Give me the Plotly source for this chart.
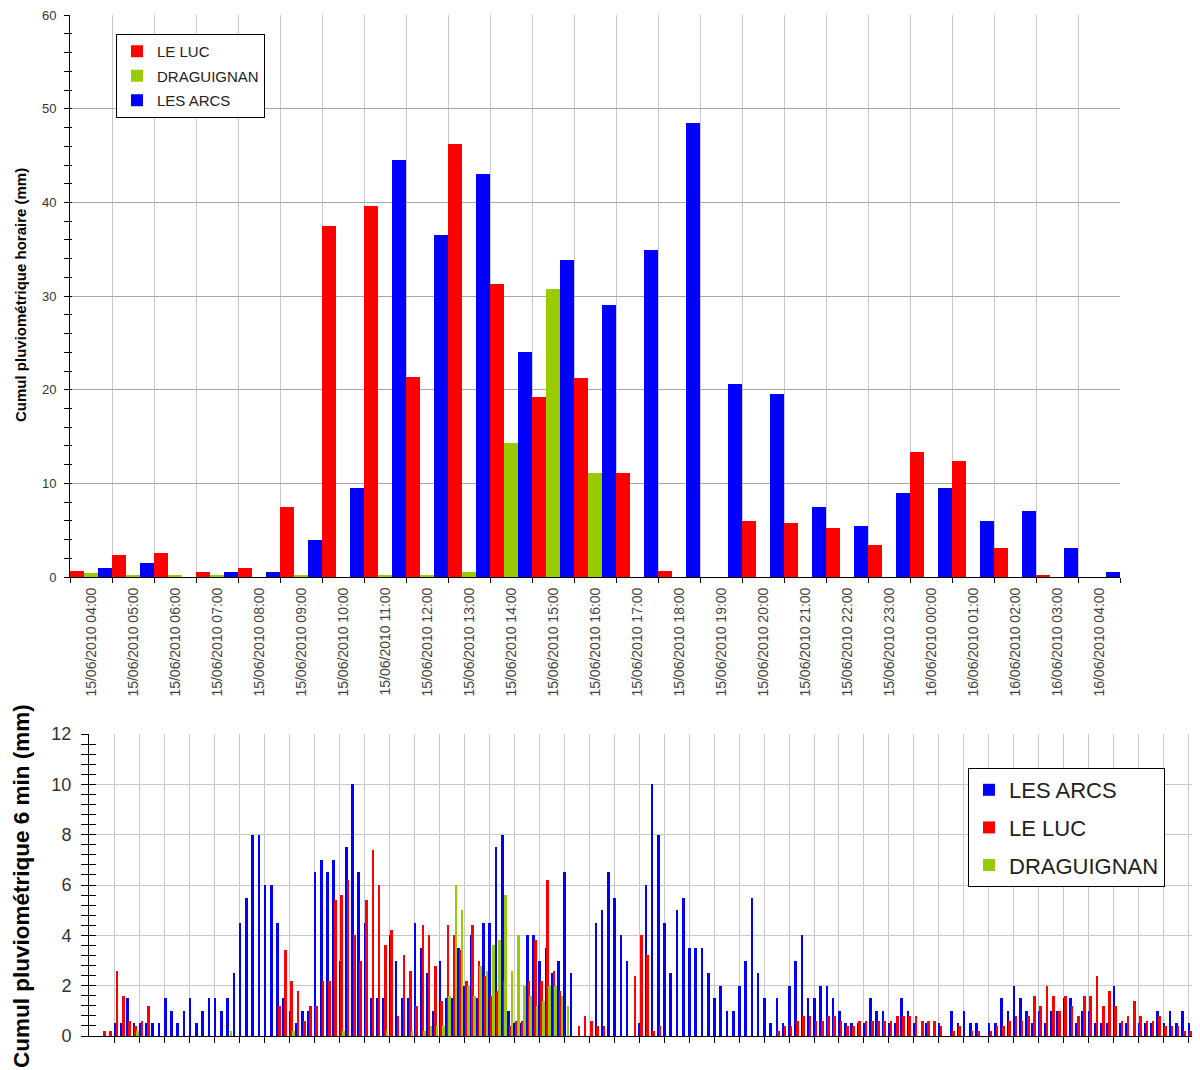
import plotly.graph_objects as go

# ---------------- data : hourly totals (top chart) ----------------
hours = [
    "15/06/2010 04:00", "15/06/2010 05:00", "15/06/2010 06:00", "15/06/2010 07:00",
    "15/06/2010 08:00", "15/06/2010 09:00", "15/06/2010 10:00", "15/06/2010 11:00",
    "15/06/2010 12:00", "15/06/2010 13:00", "15/06/2010 14:00", "15/06/2010 15:00",
    "15/06/2010 16:00", "15/06/2010 17:00", "15/06/2010 18:00", "15/06/2010 19:00",
    "15/06/2010 20:00", "15/06/2010 21:00", "15/06/2010 22:00", "15/06/2010 23:00",
    "16/06/2010 00:00", "16/06/2010 01:00", "16/06/2010 02:00", "16/06/2010 03:00",
    "16/06/2010 04:00",
]
luc_hourly = [0.6, 2.4, 2.6, 0.5, 1.0, 7.5, 37.5, 39.6, 21.4, 46.2, 31.3, 19.2, 21.2,
              11.1, 0.6, 0.0, 6.0, 5.8, 5.2, 3.4, 13.4, 12.4, 3.1, 0.2, 0.0]
drag_hourly = [0.4, 0.2, 0.2, 0.2, 0.0, 0.2, 0.0, 0.2, 0.2, 0.5, 14.3, 30.8, 11.1,
               0.0, 0.0, 0.0, 0.0, 0.0, 0.0, 0.0, 0.0, 0.0, 0.0, 0.0, 0.0]
arcs_hourly = [1.0, 1.5, 0.0, 0.5, 0.5, 4.0, 9.5, 44.5, 36.5, 43.0, 24.0, 33.9, 29.0,
               34.9, 48.5, 20.6, 19.5, 7.5, 5.5, 9.0, 9.5, 6.0, 7.0, 3.1, 0.5]

# ---------------- data : 6-minute totals (bottom chart) ----------------
arcs_6min = [
    0, 0, 0, 0, 0.5, 0.5, 1.5, 0.5, 0.5, 0.5,
    0.5, 0.5, 1.5, 1.0, 0.5, 1.0, 1.5, 0.5, 1.0, 1.5,
    1.5, 1.0, 1.5, 2.5, 4.5, 5.5, 8.0, 8.0, 6.0, 6.0,
    4.5, 1.5, 1.0, 0.5, 1.0, 1.0, 6.5, 7.0, 6.5, 7.0,
    3.0, 7.5, 10.0, 6.5, 4.5, 1.5, 1.5, 1.5, 4.0, 3.0,
    1.5, 1.5, 4.5, 3.5, 2.5, 1.0, 3.0, 1.5, 1.5, 3.5,
    2.0, 4.0, 1.5, 4.5, 4.5, 7.5, 8.0, 1.0, 0.5, 0.5,
    4.0, 4.0, 3.0, 3.5, 2.5, 3.0, 6.5, 2.5, 0, 0,
    0, 4.5, 5.0, 6.5, 5.5, 4.0, 3.0, 0, 0.5, 6.0,
    10.0, 8.0, 4.5, 2.5, 5.0, 5.5, 3.5, 3.5, 3.5, 2.5,
    1.5, 2.0, 1.0, 1.0, 2.0, 3.0, 5.5, 2.5, 1.5, 0.5,
    1.5, 0.5, 2.0, 3.0, 4.0, 1.5, 1.5, 2.0, 2.0, 1.5,
    1.0, 0.5, 0.5, 0.5, 0.5, 1.5, 1.0, 1.0, 0.5, 0.5,
    1.5, 1.0, 0.5, 0, 0.5, 0, 0.5, 0, 1.0, 0.5,
    1.0, 0.5, 0.5, 0, 0.5, 0.5, 1.5, 1.0, 2.0, 1.5,
    1.0, 0.5, 1.0, 0.5, 1.0, 1.0, 1.5, 1.5, 0.5, 1.0,
    1.0, 0.5, 0.5, 0.5, 2.0, 0.5, 0.5, 0, 0.5, 0.5,
    0.5, 1.0, 0.5, 1.0, 0.5, 1.0, 0.5, 0.5,
]
luc_6min = [
    0, 0, 0.2, 0.2, 2.6, 1.6, 0.6, 0.4, 0.6, 1.2,
    0, 0, 0, 0, 0, 0, 0, 0, 0, 0,
    0, 0, 0, 0, 0, 0, 0, 0, 0, 0,
    1.2, 3.4, 2.2, 1.8, 0.6, 1.2, 1.2, 2.2, 2.2, 5.4,
    5.6, 6.2, 4.0, 3.0, 5.4, 7.4, 6.0, 3.6, 4.2, 0.8,
    3.2, 2.6, 1.2, 4.4, 4.0, 2.8, 1.4, 4.4, 4.0, 3.4,
    2.2, 4.4, 3.0, 2.4, 1.6, 1.8, 2.2, 0.4, 0.6, 0.6,
    2.2, 3.8, 2.2, 6.2, 2.6, 1.8, 0, 0, 0.4, 0.8,
    0.6, 0.4, 0.4, 0, 0, 0, 0, 2.4, 4.0, 3.2,
    0.2, 0.4, 0, 0, 0, 0, 0, 0, 0, 0,
    0, 0, 0, 0, 0, 0, 0, 0, 0, 0,
    0.2, 0.4, 0.4, 0.6, 0.8, 0.8, 0.6, 0.6, 0.8, 0.8,
    0.6, 0.4, 0.4, 0.6, 0.6, 0.6, 0.6, 0.6, 0.6, 0.8,
    0.8, 0.8, 0.8, 0.6, 0.6, 0.6, 0.4, 0, 0.2, 0.4,
    0, 0.2, 0.2, 0, 0.2, 0.4, 0.4, 0.6, 0.8, 0.6,
    0.8, 1.6, 1.2, 2.0, 1.6, 1.0, 1.6, 1.2, 0.8, 1.6,
    1.6, 2.4, 1.2, 1.8, 1.2, 0.6, 0.8, 1.4, 0.8, 0.6,
    0.6, 0.8, 0.4, 0.4, 0.4, 0.2, 0.2, 0,
]
drag_6min = [
    0, 0, 0, 0, 0, 0, 0, 0.2, 0, 0,
    0, 0, 0, 0, 0, 0, 0, 0, 0, 0,
    0, 0, 0.2, 0, 0, 0, 0, 0, 0, 0,
    0, 0, 0.2, 0, 0, 0, 0, 0, 0, 0,
    0.2, 0, 0, 0, 0, 0, 0, 0.2, 0, 0,
    0, 0.2, 0, 0.2, 0.4, 0.4, 0.4, 1.6, 6.0, 5.0,
    2.0, 1.6, 2.8, 2.6, 3.6, 3.8, 5.6, 2.6, 4.0, 2.0,
    1.6, 1.2, 1.4, 2.0, 2.0, 1.6, 1.2, 0, 0, 0,
    0, 0, 0, 0, 0, 0, 0, 0, 0, 0,
    0, 0, 0, 0, 0, 0, 0, 0, 0, 0,
    0, 0, 0, 0, 0, 0, 0, 0, 0, 0,
    0, 0, 0, 0, 0, 0, 0, 0, 0, 0,
    0, 0, 0, 0, 0, 0, 0, 0, 0, 0,
    0, 0, 0, 0, 0, 0, 0, 0, 0, 0,
    0, 0, 0, 0, 0, 0, 0, 0, 0, 0,
    0, 0, 0, 0, 0, 0, 0, 0, 0, 0,
    0, 0, 0, 0, 0, 0, 0, 0, 0, 0,
    0, 0, 0, 0, 0, 0, 0, 0,
]

BLUE, RED, GREEN = "#0000ff", "#ff0000", "#99cc00"
# page body has an 8px margin: the figure is drawn 8px right/down of the window origin
OFF = 8
W, H = 1200 - OFF, 1070 - OFF
FONT = "Liberation Sans, Arial, sans-serif"


def fx(p):
    return (p - OFF) / W


def fy(p):
    return 1 - (p - OFF) / H


fig = go.Figure()

# top chart: grouped hourly bars
for i, (name, vals, col) in enumerate([("LE LUC", luc_hourly, RED),
                                       ("DRAGUIGNAN", drag_hourly, GREEN),
                                       ("LES ARCS", arcs_hourly, BLUE)]):
    fig.add_trace(go.Bar(x=hours, y=vals, name=name, marker=dict(color=col, line=dict(width=0)),
                         xaxis="x", yaxis="y", legend="legend", legendgroup="t%d" % i))

# bottom chart: 6-minute bars, three thin bars per slot
slots = list(range(len(arcs_6min)))
for i, (name, vals, col, off) in enumerate([("LES ARCS", arcs_6min, BLUE, -0.5),
                                            ("LE LUC", luc_6min, RED, -0.22),
                                            ("DRAGUIGNAN", drag_6min, GREEN, 0.06)]):
    fig.add_trace(go.Bar(x=slots, y=vals, name=name, width=0.42, offset=off,
                         marker=dict(color=col, line=dict(width=0)),
                         xaxis="x2", yaxis="y2", legend="legend2", legendgroup="b%d" % i))

# empty helper traces so the inner tick overlays are drawn
fig.add_trace(go.Scatter(x=[], y=[], xaxis="x", yaxis="y3", showlegend=False, hoverinfo="skip"))
fig.add_trace(go.Scatter(x=[], y=[], xaxis="x2", yaxis="y4", showlegend=False, hoverinfo="skip"))

grid_pos = [3.66 + 4 * k for k in range(44)]

fig.update_layout(
    width=W, height=H, margin=dict(l=0, r=0, t=0, b=0, autoexpand=False),
    paper_bgcolor="white", plot_bgcolor="white",
    barmode="group", bargap=0, bargroupgap=0,
    font=dict(family=FONT, color="#333"),
    xaxis=dict(domain=[fx(70), fx(1120)], anchor="y", type="category", automargin=False,
               categoryorder="array", categoryarray=hours,
               tickson="boundaries", ticks="outside", ticklen=5, tickcolor="black",
               showline=True, linecolor="black", linewidth=1,
               showgrid=True, gridcolor="#c8c8c8", gridwidth=1,
               tickangle=-90, tickfont=dict(size=14, color="#444"),
               ticklabelstandoff=4),
    yaxis=dict(domain=[fy(577), fy(15)], anchor="x", range=[0, 60.02], dtick=10, automargin=False,
               ticks="outside", ticklen=5, tickcolor="black", ticklabeloverflow="allow",
               showline=True, linecolor="black", linewidth=1,
               showgrid=True, gridcolor="#a6a6a6", zeroline=False,
               minor=dict(dtick=2, ticks="outside", ticklen=5, tickcolor="black", showgrid=False),
               tickfont=dict(size=13, color="#333"), ticklabelstandoff=5),
    yaxis3=dict(overlaying="y", anchor="x", side="left", range=[0, 60.02], dtick=10,
                automargin=False,
                ticks="inside", ticklen=2, tickcolor="black", showticklabels=False,
                showgrid=False, showline=False, zeroline=False,
                minor=dict(dtick=2, ticks="inside", ticklen=2, tickcolor="black", showgrid=False)),
    xaxis2=dict(domain=[fx(89), 1.0], anchor="y2", range=[-0.5, 177.5], automargin=False,
                tickmode="array", tickvals=grid_pos, ticks="outside", ticklen=6,
                tickcolor="black", showticklabels=False,
                showline=True, linecolor="black", linewidth=1,
                showgrid=True, gridcolor="#c8c8c8", gridwidth=1, zeroline=False),
    yaxis2=dict(domain=[fy(1036), fy(734)], anchor="x2", range=[0, 12.004], dtick=2,
                automargin=False,
                ticks="outside", ticklen=7, tickcolor="black",
                showline=True, linecolor="black", linewidth=1,
                showgrid=True, gridcolor="#c8c8c8", zeroline=False,
                minor=dict(dtick=0.4, ticks="outside", ticklen=7, tickcolor="black", showgrid=False),
                tickfont=dict(size=18, color="#333"), ticklabelstandoff=6),
    yaxis4=dict(overlaying="y2", anchor="x2", side="left", range=[0, 12.004], dtick=2,
                automargin=False,
                ticks="inside", ticklen=7, tickcolor="black", showticklabels=False,
                showgrid=False, showline=False, zeroline=False,
                minor=dict(dtick=0.4, ticks="inside", ticklen=7, tickcolor="black", showgrid=False)),
    legend=dict(x=fx(116), y=fy(34), xanchor="left", yanchor="top",
                bordercolor="black", borderwidth=1, bgcolor="white",
                font=dict(size=15, color="#222", family=FONT),
                traceorder="grouped", tracegroupgap=2),
    legend2=dict(x=fx(968), y=fy(768), xanchor="left", yanchor="top",
                 bordercolor="black", borderwidth=1, bgcolor="white",
                 font=dict(size=22, color="#222", family=FONT),
                 traceorder="grouped", tracegroupgap=6),
    annotations=[
        dict(text="Cumul pluviométrique horaire (mm)", x=fx(20), y=fy(295),
             xref="paper", yref="paper", textangle=-90, showarrow=False,
             xanchor="center", yanchor="middle",
             font=dict(size=15, color="#000", family=FONT, weight="bold")),
        dict(text="Cumul pluviométrique 6 min (mm)", x=fx(21), y=fy(886),
             xref="paper", yref="paper", textangle=-90, showarrow=False,
             xanchor="center", yanchor="middle",
             font=dict(size=22.5, color="#000", family=FONT, weight="bold")),
    ],
)

fig.write_html("out.html")
